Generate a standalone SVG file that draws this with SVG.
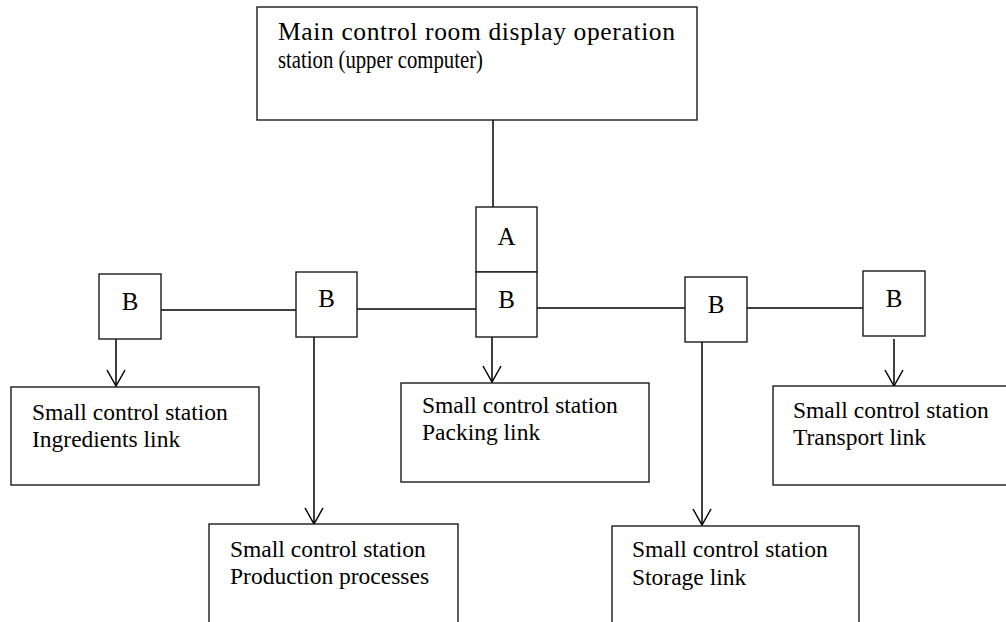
<svg xmlns="http://www.w3.org/2000/svg" width="1006" height="622" viewBox="0 0 1006 622">
<style>
.box{fill:#fff;stroke:#1a1a1a;stroke-width:1.4}
.ln{fill:none;stroke:#000;stroke-width:1.5}
.t{font-family:"Liberation Serif","Times New Roman",serif;fill:#000}
.main{font-size:25.5px}
.main2{font-size:24.5px}
.sm{font-size:23.5px}
.lt{font-size:25px;text-anchor:middle}
</style>
<defs>
<marker id="arr" markerUnits="userSpaceOnUse" markerWidth="24" markerHeight="24" viewBox="-12 -20 24 24" refX="0" refY="0" orient="auto" overflow="visible">
<path d="M-16,-9 L0,0 L-16,9" fill="none" stroke="#000" stroke-width="1.5"/>
</marker>
</defs>
<rect width="1006" height="622" fill="#fff"/>
<g id="connectors">
<line class="ln" x1="493" y1="120" x2="493" y2="207"/>
<line class="ln" x1="161" y1="310" x2="296" y2="310"/>
<line class="ln" x1="357" y1="309" x2="476" y2="309"/>
<line class="ln" x1="537" y1="308" x2="685" y2="308"/>
<line class="ln" x1="747" y1="308" x2="863" y2="308"/>
<line class="ln" x1="116" y1="339" x2="116" y2="386" marker-end="url(#arr)"/>
<line class="ln" x1="314" y1="337" x2="314" y2="524" marker-end="url(#arr)"/>
<line class="ln" x1="492" y1="337" x2="492" y2="382" marker-end="url(#arr)"/>
<line class="ln" x1="702" y1="342" x2="702" y2="525" marker-end="url(#arr)"/>
<line class="ln" x1="894" y1="339" x2="894" y2="386" marker-end="url(#arr)"/>
</g>
<g id="main">
<rect class="box" x="257" y="7" width="440" height="113"/>
<text class="t main" x="278" y="40" textLength="397" lengthAdjust="spacing">Main control room display operation</text>
<text class="t main2" x="278" y="68" textLength="205" lengthAdjust="spacingAndGlyphs">station (upper computer)</text>
</g>
<g id="nodeA">
<rect class="box" x="476" y="207" width="61" height="65"/>
<text class="t lt" x="506.5" y="245">A</text>
</g>
<g id="nodeB3">
<rect class="box" x="476" y="272" width="61" height="65"/>
<text class="t lt" x="506.5" y="308">B</text>
</g>
<g id="nodeB1">
<rect class="box" x="99" y="274" width="62" height="65"/>
<text class="t lt" x="130" y="310">B</text>
</g>
<g id="nodeB2">
<rect class="box" x="296" y="272" width="61" height="65"/>
<text class="t lt" x="326.5" y="307">B</text>
</g>
<g id="nodeB4">
<rect class="box" x="685" y="277" width="62" height="65"/>
<text class="t lt" x="716" y="313">B</text>
</g>
<g id="nodeB5">
<rect class="box" x="863" y="271" width="62" height="65"/>
<text class="t lt" x="894" y="307">B</text>
</g>
<g id="ingredients">
<rect class="box" x="11" y="387" width="248" height="98"/>
<text class="t sm" x="32" y="420">Small control station</text>
<text class="t sm" x="32" y="447">Ingredients link</text>
</g>
<g id="packing">
<rect class="box" x="401" y="383" width="248" height="99"/>
<text class="t sm" x="422" y="413">Small control station</text>
<text class="t sm" x="422" y="440">Packing link</text>
</g>
<g id="transport">
<rect class="box" x="773" y="386" width="245" height="99"/>
<text class="t sm" x="793" y="418">Small control station</text>
<text class="t sm" x="793" y="445">Transport link</text>
</g>
<g id="production">
<rect class="box" x="209" y="524" width="249" height="110"/>
<text class="t sm" x="230" y="557">Small control station</text>
<text class="t sm" x="230" y="584">Production processes</text>
</g>
<g id="storage">
<rect class="box" x="612" y="526" width="247" height="110"/>
<text class="t sm" x="632" y="557">Small control station</text>
<text class="t sm" x="632" y="585">Storage link</text>
</g>
</svg>
